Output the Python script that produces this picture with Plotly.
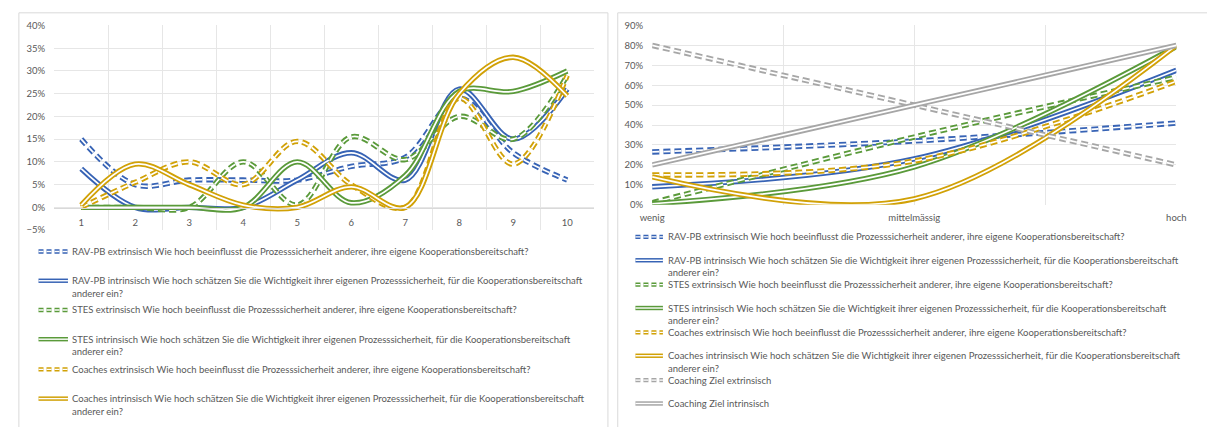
import textwrap
import plotly.graph_objects as go

W, H = 1207, 427

# ---- series names -------------------------------------------------------
NAMES = [
    "RAV-PB extrinsisch Wie hoch beeinflusst die Prozesssicherheit anderer, ihre eigene Kooperationsbereitschaft?",
    "RAV-PB intrinsisch Wie hoch schätzen Sie die Wichtigkeit ihrer eigenen Prozesssicherheit, für die Kooperationsbereitschaft anderer ein?",
    "STES extrinsisch Wie hoch beeinflusst die Prozesssicherheit anderer, ihre eigene Kooperationsbereitschaft?",
    "STES intrinsisch Wie hoch schätzen Sie die Wichtigkeit ihrer eigenen Prozesssicherheit, für die Kooperationsbereitschaft anderer ein?",
    "Coaches extrinsisch Wie hoch beeinflusst die Prozesssicherheit anderer, ihre eigene Kooperationsbereitschaft?",
    "Coaches intrinsisch Wie hoch schätzen Sie die Wichtigkeit ihrer eigenen Prozesssicherheit, für die Kooperationsbereitschaft anderer ein?",
    "Coaching Ziel extrinsisch",
    "Coaching Ziel intrinsisch",
]

# ---- left panel: answer scale 1..10 (share of answers, %) ---------------
LEFT_X = [1, 2, 3, 4, 5, 6, 7, 8, 9, 10]
rav_ext = [15, 5, 6, 6, 6, 9, 11, 24, 12, 6]
rav_int = [8.5, 0, 0, 0, 6, 12, 6, 26, 15, 26]
stes_ext = [0, 0, 0, 10, 0.5, 15.5, 10.5, 20, 15, 29]
stes_int = [0, 0, 0, 0, 10, 1, 7, 25.5, 25.5, 30]
coach_ext = [0, 5.5, 10, 5, 14.5, 5, 0, 24, 9.5, 29]
coach_int = [0.5, 9.5, 5, 0.5, 0, 4.5, 0, 25, 33, 24.5]

# ---- right panel: grouped scale (share of answers, %) --------------------
RIGHT_X = ["wenig", "mittelmässig", "hoch"]
rav_ext_g = [26.5, 32, 41]
rav_int_g = [9, 23, 67.5]
stes_ext_g = [1, 34, 64]
stes_int_g = [0.5, 19, 79.5]
coach_ext_g = [15, 22, 62]
coach_int_g = [14, 3, 80]
ziel_ext_g = [80, 50, 20]
ziel_int_g = [20, 50, 80]

LEFT_SERIES = [rav_ext, rav_int, stes_ext, stes_int, coach_ext, coach_int]
RIGHT_SERIES = [rav_ext_g, rav_int_g, stes_ext_g, stes_int_g,
                coach_ext_g, coach_int_g, ziel_ext_g, ziel_int_g]

BLUE, GREEN, GOLD, GREY = "#3763B5", "#5A9A3A", "#D1A106", "#A6A6A6"
COLORS = [BLUE, BLUE, GREEN, GREEN, GOLD, GOLD, GREY, GREY]
DASHED = [True, False, True, False, True, False, True, False]
LINE_DASH = "7px,4px"
KEY_DASH = "5px,3px"
TEXT = "#595959"
GRID = "#D9D9D9"
FONT = "Lato"
FS = 9.5

fig = go.Figure()


def add_double(x, y, i, xa, ya):
    """Excel-like double (compound) line: coloured stroke with a white core."""
    d = LINE_DASH if DASHED[i] else "solid"
    fig.add_trace(go.Scatter(
        x=x, y=y, xaxis=xa, yaxis=ya, mode="lines", showlegend=False,
        hoverinfo="skip",
        line=dict(color=COLORS[i], width=5.4, dash=d, shape="spline", smoothing=1)))
    fig.add_trace(go.Scatter(
        x=x, y=y, xaxis=xa, yaxis=ya, mode="lines", showlegend=False,
        hoverinfo="skip",
        line=dict(color="white", width=1.7, dash=d, shape="spline", smoothing=1)))


for i, ys in enumerate(LEFT_SERIES):
    add_double(LEFT_X, ys, i, "x", "y")

RIGHT_POS = list(range(len(RIGHT_X)))
for i, ys in enumerate(RIGHT_SERIES):
    add_double(RIGHT_POS, ys, i, "x2", "y2")


def px(x):
    return x / W


def py(y):
    return 1 - y / H


shapes = []
annotations = []

# chart frames
shapes.append(dict(type="rect", xref="paper", yref="paper",
                   x0=px(7), x1=px(607), y0=-0.05, y1=py(7),
                   line=dict(color=GRID, width=1), layer="below"))
shapes.append(dict(type="rect", xref="paper", yref="paper",
                   x0=px(617), x1=1.02, y0=-0.05, y1=py(7),
                   line=dict(color=GRID, width=1), layer="below"))


def legend(entries, ys, x0, x1, xt):
    for idx, yc in zip(entries, ys):
        c = COLORS[idx]
        d = KEY_DASH if DASHED[idx] else "solid"
        shapes.append(dict(type="line", xref="paper", yref="paper",
                           x0=px(x0), x1=px(x1), y0=py(yc), y1=py(yc),
                           line=dict(color=c, width=4.4, dash=d)))
        shapes.append(dict(type="line", xref="paper", yref="paper",
                           x0=px(x0), x1=px(x1), y0=py(yc), y1=py(yc),
                           line=dict(color="white", width=1.4, dash=d)))
        for k, line in enumerate(textwrap.wrap(NAMES[idx], 124)):
            annotations.append(dict(
                xref="paper", yref="paper", x=px(xt), y=py(yc + 13 * k),
                xanchor="left", yanchor="middle", showarrow=False, text=line,
                font=dict(family=FONT, size=FS, color=TEXT)))


legend(range(6), [252, 282, 312, 342, 373, 403], 27, 57, 59)
legend(range(8), [237, 261, 286, 310, 335, 359, 384, 408], 635, 663, 666)

tickfont = dict(family=FONT, size=FS, color=TEXT)

fig.update_layout(
    width=W, height=H, margin=dict(l=0, r=0, t=0, b=0),
    paper_bgcolor="white", plot_bgcolor="white",
    font=dict(family=FONT, size=FS, color=TEXT),
    shapes=shapes, annotations=annotations,
    xaxis=dict(domain=[px(43), px(593)], range=[0.5, 10.5],
               tickvals=LEFT_X, ticktext=[str(v) for v in LEFT_X],
               showgrid=False, zeroline=False, showline=True,
               linecolor=GRID, linewidth=1,
               anchor="free", position=py(207), ticks="",
               ticklabelstandoff=6, tickfont=tickfont,
               minor=dict(tickvals=[v + 0.5 for v in range(0, 11)],
                          showgrid=True, gridcolor="#E6E6E6", gridwidth=1)),
    yaxis=dict(domain=[py(230), py(20)], range=[-5, 40], dtick=5,
               ticksuffix="%", showgrid=True, gridcolor="#E6E6E6", zeroline=False,
               tickfont=tickfont, ticklabelstandoff=8, anchor="x"),
    xaxis2=dict(domain=[px(652), px(1186)], range=[0, 2],
                tickvals=RIGHT_POS, ticktext=RIGHT_X,
                showgrid=True, gridcolor="#E6E6E6", zeroline=False,
                showline=False, ticks="", anchor="y2",
                ticklabelstandoff=6, tickfont=tickfont,
                minor=dict(tickvals=[0.5, 1.5], showgrid=True,
                           gridcolor="#E6E6E6", gridwidth=1)),
    yaxis2=dict(domain=[py(204), py(20)], range=[0, 90], dtick=10,
                ticksuffix="%", showgrid=True, gridcolor="#E6E6E6", zeroline=False,
                tickfont=tickfont, ticklabelstandoff=8, anchor="x2"),
)

fig.write_html("out.html")
